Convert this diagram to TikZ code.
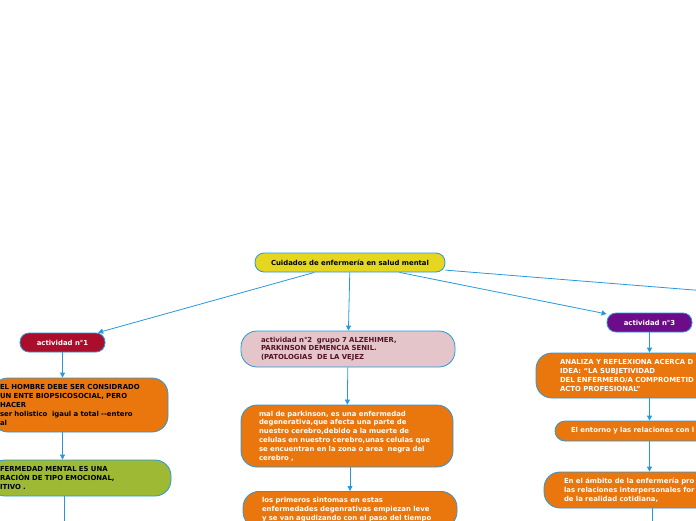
\documentclass[tikz,border=0pt]{standalone}
\usepackage{fontspec}
\newfontfamily\mapfont{DejaVu Sans}
\usetikzlibrary{arrows.meta}
\definecolor{mapblue}{RGB}{38,152,222}
\definecolor{maporange}{RGB}{234,118,14}
\definecolor{mapgreen}{RGB}{158,185,52}
\definecolor{mappink}{RGB}{228,198,202}
\definecolor{mapyellow}{RGB}{229,214,32}
\definecolor{mapred}{RGB}{170,14,42}
\definecolor{mappurple}{RGB}{108,12,138}
\definecolor{mapmaroon}{RGB}{84,18,40}
\begin{document}
\begin{tikzpicture}[x=1pt, y=-1pt]
  \tikzstyle{box} = [draw=mapblue, line width=0.8pt, font=\mapfont\bfseries\fontsize{6.9}{8.8}\selectfont, inner sep=0pt];
  \tikzstyle{pill_box}   = [box, rounded corners=9pt, minimum width=85pt, minimum height=19pt, text=white];
  \tikzstyle{big_box}    = [box, rounded corners=16pt, align=left, text=white, fill=maporange];
  \tikzstyle{link}       = [draw=mapblue, line width=0.8pt, -{Triangle[length=5pt, width=5pt]}];

  \useasboundingbox (0, 0) rectangle (696, 520);

  \node[box, rounded corners=9pt, fill=mapyellow, minimum width=190pt, minimum height=19pt] (central) at (350, 262.5) {Cuidados de enfermería en salud mental};

  \node[pill_box, fill=mapred]    (act1) at (62.5, 342.5)  {actividad n°1};
  \node[pill_box, fill=mappurple] (act3) at (649.5, 322.5) {actividad n°3};

  \node[big_box, text=black, text width=160pt, minimum width=176pt, minimum height=54pt] (hombre) at (80, 405) {EL HOMBRE DEBE SER CONSIDRADO\\UN ENTE BIOPSICOSOCIAL, PERO\\HACER\\ser holistico~ igaul a total --entero\\al};
  \node[big_box, text=black, fill=mapgreen, text width=160pt, minimum width=182pt, minimum height=36pt] (mental) at (80, 478) {FERMEDAD MENTAL ES UNA\\RACIÓN DE TIPO EMOCIONAL,\\ITIVO .};

  \node[big_box, text=mapmaroon, fill=mappink, text width=174pt, minimum width=214pt, minimum height=36pt] (act2) at (348, 349) {actividad n°2~ grupo 7 ALZEHIMER,\\PARKINSON DEMENCIA SENIL.\\(PATOLOGIAS~ DE LA VEJEZ};
  \node[big_box, text width=176pt, minimum width=212pt, minimum height=62pt] (parkinson) at (347, 436) {mal de parkinson, es una enfermedad\\degenerativa,que afecta una parte de\\nuestro cerebro,debido a la muerte de\\celulas en nuestro cerebro,unas celulas que\\se encuentran en la zona o area~ negra del\\cerebro ,};
  \node[big_box, text width=176pt, minimum width=214pt, inner ysep=6pt, anchor=north] (sintomas) at (350, 491) {los primeros sintomas en estas\\enfermedades degenrativas empiezan leve\\y se van agudizando con el paso del tiempo};

  \node[big_box, text width=180pt, minimum width=228pt, minimum height=45pt] (analiza) at (650, 375.5) {ANALIZA Y REFLEXIONA ACERCA D\\IDEA: “LA SUBJETIVIDAD\\DEL ENFERMERO/A COMPROMETID\\ACTO PROFESIONAL”};
  \node[big_box, rounded corners=10pt, text width=180pt, minimum width=212pt, minimum height=20pt] (entorno) at (661, 431) {El entorno y las relaciones con l};
  \node[big_box, text width=180pt, minimum width=220pt, minimum height=36pt] (ambito) at (654, 490) {En el ámbito de la enfermería pro\\las relaciones interpersonales for\\de la realidad cotidiana,};

  \coordinate (far)     at (950, 310.5);
  \coordinate (down1)   at (64, 540);
  \coordinate (down3)   at (652, 540);

  \draw[link] (central) -- (act1);
  \draw[link] (central) -- (act2);
  \draw[link] (central) -- (act3);
  \draw[link] (central) -- (far);

  \draw[link] (act1.south) -- (act1.south |- hombre.north);
  \draw[link] (hombre.south -| act1.south) -- (mental.north -| act1.south);
  \draw[link] (mental.south -| down1) -- (down1);

  \draw[link] (act2) -- (parkinson);
  \draw[link] (parkinson.south -| sintomas.north) -- (sintomas.north);

  \draw[link] (act3) -- (act3 |- analiza.north);
  \draw[link] (analiza.south -| act3) -- (entorno.north -| act3);
  \draw[link] (entorno.south -| act3) -- (ambito.north -| act3);
  \draw[link] (ambito.south -| down3) -- (down3);
\end{tikzpicture}
\end{document}
